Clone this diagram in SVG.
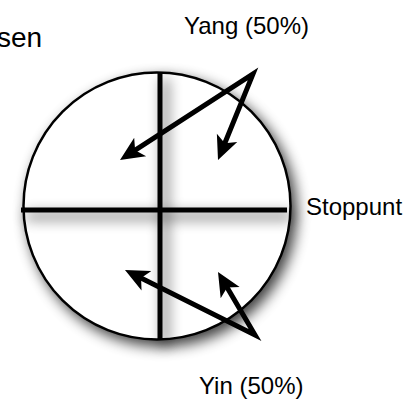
<svg xmlns="http://www.w3.org/2000/svg" width="417" height="399" viewBox="0 0 417 399">
  <style>
    .lbl { font-family: "Liberation Sans", Arial, Helvetica, sans-serif; font-size: 24px; fill: #000; }
    .axis { stroke: #000; stroke-width: 5; fill: none; }
    .arrow { stroke: #000; stroke-width: 5; fill: none; stroke-linejoin: miter; marker-start: url(#head); marker-end: url(#head); }
  </style>
  <defs>
    <filter id="shadow" x="-20%" y="-20%" width="140%" height="140%">
      <feGaussianBlur in="SourceAlpha" stdDeviation="7"/>
      <feOffset dx="5" dy="6" result="b"/>
      <feComponentTransfer><feFuncA type="linear" slope="0.75"/></feComponentTransfer>
      <feMerge><feMergeNode/><feMergeNode in="SourceGraphic"/></feMerge>
    </filter>
    <marker id="head" viewBox="0 -14 28 28" markerUnits="userSpaceOnUse" markerWidth="28" markerHeight="28" refX="10" refY="0" orient="auto-start-reverse">
      <path d="M24,0 L0,-11 L6,0 L0,11 Z" fill="#000"/>
    </marker>
  </defs>
  <rect width="417" height="399" fill="#fff"/>
  <text class="lbl" x="-3" y="47" style="font-size:28px">sen</text>
  <g id="wheel">
    <circle cx="157" cy="206" r="133.5" fill="#fff" stroke="#000" stroke-width="2.5" filter="url(#shadow)"/>
  </g>
  <g id="cross" filter="url(#shadow)">
    <line class="axis" x1="160" y1="73" x2="160" y2="339"/>
    <line class="axis" x1="21" y1="210" x2="287" y2="210"/>
  </g>
  <g id="connectors">
    <path class="arrow" d="M131.76,152.4 L253,74 L223.28,147.04"/>
    <path class="arrow" d="M137.52,276.26 L255,335 L225.09,284.07"/>
  </g>
  <g id="yang"><text class="lbl" x="184" y="34">Yang (50%)</text></g>
  <g id="stoppunt"><text class="lbl" x="306" y="215">Stoppunt</text></g>
  <g id="yin"><text class="lbl" x="199" y="394">Yin (50%)</text></g>
</svg>
